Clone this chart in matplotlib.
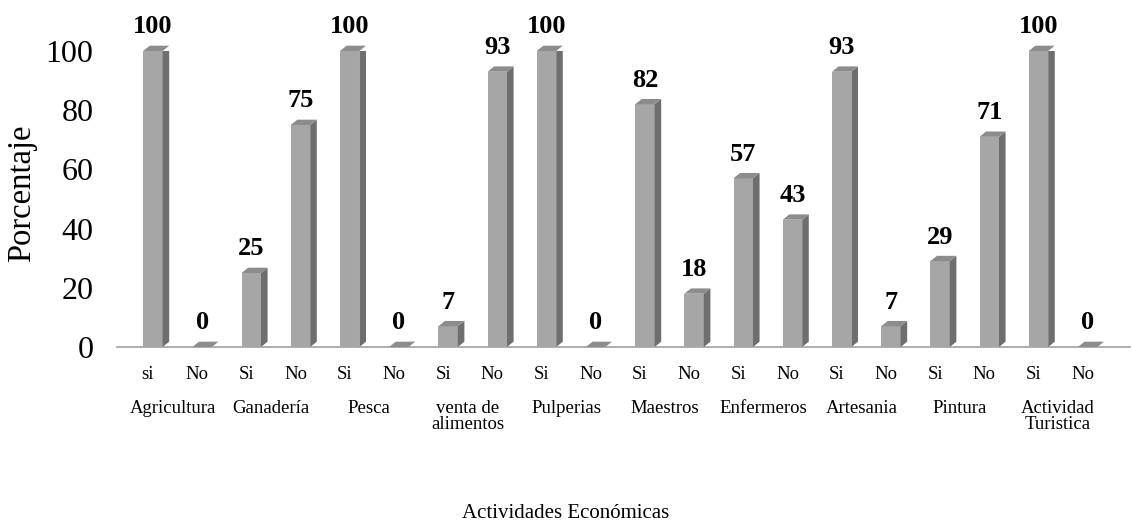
import matplotlib
matplotlib.use("Agg")
import matplotlib.pyplot as plt
from matplotlib.patches import Polygon

plt.rcParams['font.family'] = ['Liberation Serif', 'DejaVu Serif']

groups = ["Agricultura", "Ganadería", "Pesca", "venta de\nalimentos", "Pulperias",
          "Maestros", "Enfermeros", "Artesania", "Pintura", "Actividad\nTuristica"]
sub_labels = ["si", "No", "Si", "No", "Si", "No", "Si", "No", "Si", "No",
              "Si", "No", "Si", "No", "Si", "No", "Si", "No", "Si", "No"]
values = [100, 0, 25, 75, 100, 0, 7, 93, 100, 0, 82, 18, 57, 43, 93, 7, 29, 71, 100, 0]

fig = plt.figure(figsize=(11.32, 5.23), dpi=100)
ax = fig.add_axes([117/1132, 1-347/523, 1013/1132, 296/523])
ax.set_xlim(-0.63, 19.96)
ax.set_ylim(0, 100)

front_c = "#a6a6a6"
side_c = "#6e6e6e"
top_c = "#8c8c8c"
x0, x1 = -0.098, 0.297   # front face offsets relative to tick
dx, dy = 0.134, 1.8      # depth

for i, v in enumerate(values):
    l, r = i + x0, i + x1
    if v > 0:
        ax.add_patch(Polygon([(l, 0), (r, 0), (r, v), (l, v)], closed=True,
                             facecolor=front_c, edgecolor='none', zorder=3))
        ax.add_patch(Polygon([(r, 0), (r + dx, dy), (r + dx, v + dy), (r, v)], closed=True,
                             facecolor=side_c, edgecolor='none', zorder=3))
    ax.add_patch(Polygon([(l, v), (r, v), (r + dx, v + dy), (l + dx, v + dy)], closed=True,
                         facecolor=top_c, edgecolor='none', zorder=3, clip_on=False))
    ax.annotate(str(v), xy=(i + 0.1, v), xytext=(0, 17.3), textcoords='offset points',
                ha='center', va='center', fontsize=19, fontweight='bold',
                annotation_clip=False)

for s in ['top', 'right', 'left']:
    ax.spines[s].set_visible(False)
ax.spines['bottom'].set_color('#a0a0a0')
ax.spines['bottom'].set_linewidth(1.2)

ax.set_yticks([0, 20, 40, 60, 80, 100])
ax.tick_params(axis='y', length=0, labelsize=23, pad=17)
ax.set_xticks(range(len(values)))
ax.set_xticklabels(sub_labels, fontsize=13.5)
ax.tick_params(axis='x', length=0, pad=14)

for g, name in enumerate(groups):
    ax.annotate(name, xy=(2 * g + 0.5, 0), xytext=(0, -38), textcoords='offset points',
                ha='center', va='top', fontsize=13.5, linespacing=0.95,
                annotation_clip=False)

fig.text(22/1132, 1-193/523, "Porcentaje", rotation=90, ha='center', va='center', fontsize=23.5)
fig.text(566/1132, 1-513/523, "Actividades Económicas", ha='center', va='center', fontsize=15)

fig.savefig("out.png", dpi=100)
